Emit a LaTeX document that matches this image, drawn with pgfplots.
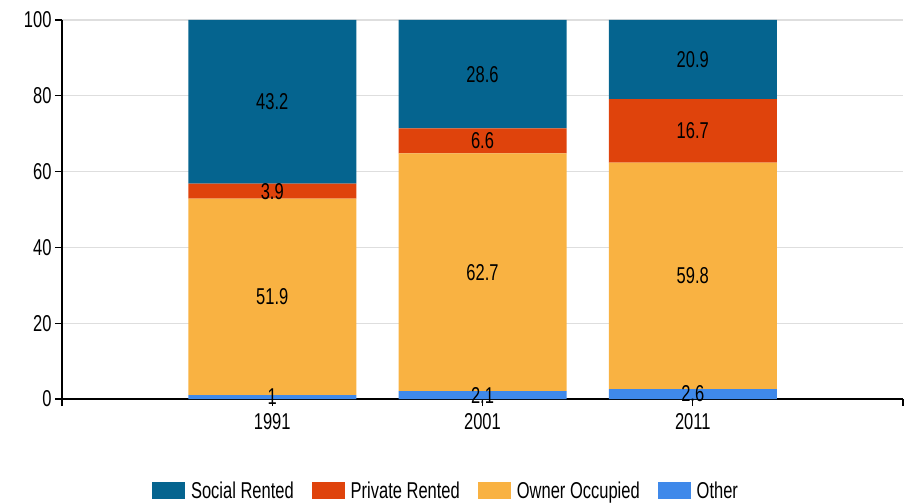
\documentclass[border=0pt]{standalone}
\usepackage{fontspec}
\setmainfont[FakeStretch=0.72]{Liberation Sans}
\usepackage{pgfplots}
\pgfplotsset{compat=1.18}

\definecolor{social}{HTML}{05648F}
\definecolor{private}{HTML}{DF430C}
\definecolor{owner}{HTML}{F9B242}
\definecolor{other}{HTML}{3F89EA}

\begin{document}
\begin{tikzpicture}
\begin{axis}[
    scale only axis,
    width=841bp, height=379bp,
    ybar stacked, bar width=168bp,
    xmin=-1, xmax=3, ymin=0, ymax=100,
    xtick={-1,0,1,2,3}, xticklabels={,1991,2001,2011,},
    ytick={0,20,...,100},
    axis x line*=bottom, axis y line*=left,
    axis line style={line width=1.2bp},
    tick align=outside, major tick length=7bp,
    tick style={black, line width=1.2bp},
    ymajorgrids,
    major grid style={draw=black!13, line width=1.2bp},
    /pgf/number format/assume math mode=true,
    tick label style={font=\fontsize{23}{23}\selectfont},
    xticklabel style={yshift=-4bp},
    % in compat 1.18 the labels of stacked bars already sit mid-segment
    nodes near coords,
    every node near coord/.append style={
        font=\fontsize{23}{23}\selectfont, anchor=center, text=black},
    legend style={at={(0.4566,-0.2427)}, anchor=center, draw=none,
        font=\fontsize{23}{23}\selectfont, legend columns=4,
        /tikz/every even column/.append style={column sep=16bp}},
    legend image code/.code={\fill[#1] (0bp,-8.5bp) rectangle (33bp,8.5bp);
        \path (37bp,0bp);},
    reverse legend,
]
\addplot[fill=other, draw=none] coordinates {(0,1) (1,2.1) (2,2.6)};
\addlegendentry{Other}
\addplot[fill=owner, draw=none] coordinates {(0,51.9) (1,62.7) (2,59.8)};
\addlegendentry{Owner Occupied}
\addplot[fill=private, draw=none] coordinates {(0,3.9) (1,6.6) (2,16.7)};
\addlegendentry{Private Rented}
\addplot[fill=social, draw=none] coordinates {(0,43.2) (1,28.6) (2,20.9)};
\addlegendentry{Social Rented}
\end{axis}
\pgfresetboundingbox
\path[use as bounding box] ([shift={(-62bp,-105bp)}]current axis.south west)
    rectangle ([shift={(5bp,20bp)}]current axis.north east);
\end{tikzpicture}
\end{document}
